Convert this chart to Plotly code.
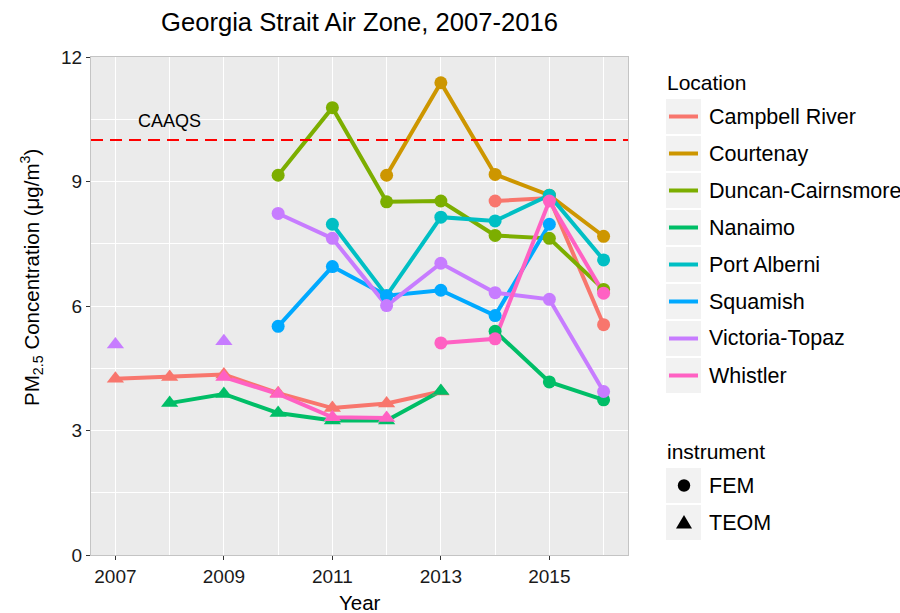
import plotly.graph_objects as go

# ---------------- data ----------------
years = [2007, 2008, 2009, 2010, 2011, 2012, 2013, 2014, 2015, 2016]
locations = ["Campbell River", "Courtenay", "Duncan-Cairnsmore", "Nanaimo",
             "Port Alberni", "Squamish", "Victoria-Topaz", "Whistler"]
colors = ["#F8766D", "#CD9600", "#7CAE00", "#00BE67",
          "#00BFC4", "#00A9FF", "#C77CFF", "#FF61C3"]
instruments = ["FEM", "TEOM"]
N = None

campbell_river_fem = [N, N, N, N, N, N, N, 8.53, 8.60, 5.55]
campbell_river_teom = [4.25, 4.29, 4.35, 3.90, 3.54, 3.65, 3.94, N, N, N]
courtenay_fem = [N, N, N, N, N, 9.15, 11.38, 9.17, 8.67, 7.68]
courtenay_teom = [N, N, N, N, N, N, N, N, N, N]
duncan_fem = [N, N, N, 9.15, 10.78, 8.51, 8.53, 7.70, 7.63, 6.40]
duncan_teom = [N, N, N, N, N, N, N, N, N, N]
nanaimo_fem = [N, N, N, N, N, N, N, 5.39, 4.17, 3.74]
nanaimo_teom = [N, 3.66, 3.88, 3.42, 3.24, 3.24, 3.95, N, N, N]
port_alberni_fem = [N, N, N, N, 7.97, 6.25, 8.14, 8.05, 8.67, 7.11]
port_alberni_teom = [N, N, N, N, N, N, N, N, N, N]
squamish_fem = [N, N, N, 5.51, 6.95, 6.25, 6.38, 5.77, 7.97, N]
squamish_teom = [N, N, N, N, N, N, N, N, N, N]
victoria_fem = [N, N, N, 8.23, 7.63, 6.01, 7.03, 6.32, 6.16, 3.94]
victoria_teom = [5.07, N, 5.15, N, N, N, N, N, N, N]
whistler_fem = [N, N, N, N, N, N, 5.11, 5.21, 8.53, 6.31]
whistler_teom = [N, N, 4.29, 3.88, 3.32, 3.30, N, N, N, N]

caaqs = 10
x_ticks = [2007, 2009, 2011, 2013, 2015]
y_ticks = [0, 3, 6, 9, 12]

series = {
    "Campbell River": {"FEM": campbell_river_fem, "TEOM": campbell_river_teom},
    "Courtenay": {"FEM": courtenay_fem, "TEOM": courtenay_teom},
    "Duncan-Cairnsmore": {"FEM": duncan_fem, "TEOM": duncan_teom},
    "Nanaimo": {"FEM": nanaimo_fem, "TEOM": nanaimo_teom},
    "Port Alberni": {"FEM": port_alberni_fem, "TEOM": port_alberni_teom},
    "Squamish": {"FEM": squamish_fem, "TEOM": squamish_teom},
    "Victoria-Topaz": {"FEM": victoria_fem, "TEOM": victoria_teom},
    "Whistler": {"FEM": whistler_fem, "TEOM": whistler_teom},
}

# ---------------- figure ----------------
W, H = 900, 613
L, R, T, B = 91, 272, 57, 58
pw, ph = W - L - R, H - T - B
FONT = "Liberation Sans, Arial, sans-serif"


def px_x(px):
    return (px - L) / pw


def px_y(py):
    return (H - B - py) / ph


fig = go.Figure()

# lines first
for loc, col in zip(locations, colors):
    for inst in instruments:
        vals = series[loc][inst]
        if all(v is None for v in vals):
            continue
        fig.add_trace(go.Scatter(
            x=years, y=vals, mode="lines", connectgaps=False,
            line=dict(color=col, width=4), showlegend=False, hoverinfo="skip"))

# points on top
for loc, col in zip(locations, colors):
    for inst in instruments:
        vals = series[loc][inst]
        if all(v is None for v in vals):
            continue
        fig.add_trace(go.Scatter(
            x=years, y=vals, mode="markers", name=f"{loc} ({inst})",
            marker=dict(color=col,
                        size=13 if inst == "FEM" else 15,
                        symbol="circle" if inst == "FEM" else "triangle-up",
                        line=dict(width=0)),
            showlegend=False))

shapes = []
annotations = []

# CAAQS reference line
shapes.append(dict(type="line", xref="paper", x0=0, x1=1, yref="y",
                   y0=caaqs, y1=caaqs,
                   line=dict(color="#FF0000", width=2, dash="12px,7px"),
                   layer="above"))
annotations.append(dict(x=2008, y=caaqs + 0.45, xref="x", yref="y",
                        text="CAAQS", showarrow=False,
                        font=dict(size=18, color="black", family=FONT)))

# ---------- custom ggplot-style legends ----------
KEY_X0, KEY_X1 = 666, 701
TEXT_X = 707
PITCH = 37
LEG_FONT = 21.5
LEG_TITLE_FONT = 21
annotations.append(dict(x=px_x(665), y=px_y(82.5), xref="paper", yref="paper",
                        text="Location", showarrow=False, xanchor="left",
                        yanchor="middle",
                        font=dict(size=LEG_TITLE_FONT, color="black", family=FONT)))
for i, (loc, col) in enumerate(zip(locations, colors)):
    cy = 116.5 + PITCH * i
    shapes.append(dict(type="rect", xref="paper", yref="paper",
                       x0=px_x(KEY_X0), x1=px_x(KEY_X1),
                       y0=px_y(cy + 17.5), y1=px_y(cy - 17.5),
                       fillcolor="#F2F2F2", line=dict(width=0), layer="below"))
    shapes.append(dict(type="line", xref="paper", yref="paper",
                       x0=px_x(669), x1=px_x(698), y0=px_y(cy), y1=px_y(cy),
                       line=dict(color=col, width=4)))
    annotations.append(dict(x=px_x(TEXT_X), y=px_y(cy), xref="paper",
                            yref="paper", text=loc, showarrow=False,
                            xanchor="left", yanchor="middle",
                            font=dict(size=LEG_FONT, color="black", family=FONT)))

annotations.append(dict(x=px_x(665), y=px_y(451.5), xref="paper", yref="paper",
                        text="instrument", showarrow=False, xanchor="left",
                        yanchor="middle",
                        font=dict(size=LEG_TITLE_FONT, color="black", family=FONT)))
for i, inst in enumerate(instruments):
    cy = 485.5 + PITCH * i
    shapes.append(dict(type="rect", xref="paper", yref="paper",
                       x0=px_x(KEY_X0), x1=px_x(KEY_X1),
                       y0=px_y(cy + 17.5), y1=px_y(cy - 17.5),
                       fillcolor="#F2F2F2", line=dict(width=0), layer="below"))
    if inst == "FEM":
        shapes.append(dict(type="circle", xref="paper", yref="paper",
                           x0=px_x(684 - 6.2), x1=px_x(684 + 6.2),
                           y0=px_y(cy + 6.2), y1=px_y(cy - 6.2),
                           fillcolor="black", line=dict(width=0)))
    else:
        path = (f"M {px_x(684 - 8)} {px_y(cy + 6)} "
                f"L {px_x(684 + 8)} {px_y(cy + 6)} "
                f"L {px_x(684)} {px_y(cy - 7.5)} Z")
        shapes.append(dict(type="path", xref="paper", yref="paper",
                           path=path, fillcolor="black", line=dict(width=0)))
    annotations.append(dict(x=px_x(TEXT_X), y=px_y(cy), xref="paper",
                            yref="paper", text=inst, showarrow=False,
                            xanchor="left", yanchor="middle",
                            font=dict(size=LEG_FONT, color="black", family=FONT)))

# axis titles
annotations.append(dict(x=0.5, y=px_y(602), xref="paper", yref="paper",
                        text="Year", showarrow=False, yanchor="middle",
                        font=dict(size=20.5, color="black", family=FONT)))
annotations.append(dict(x=px_x(31), y=px_y(278), xref="paper", yref="paper",
                        text="PM<sub>2.5</sub> Concentration (μg/m<sup>3</sup>)",
                        textangle=-90, showarrow=False,
                        xanchor="center", yanchor="middle",
                        font=dict(size=20.5, color="black", family=FONT)))

axis_common = dict(
    showgrid=True, gridcolor="white", gridwidth=1.2,
    zeroline=False, showline=True, mirror=True, linecolor="#C4C4C4",
    linewidth=1, ticks="outside", ticklen=4, tickwidth=1, tickcolor="#333333",
    tickfont=dict(size=19, color="#1A1A1A", family=FONT),
)

fig.update_layout(
    width=W, height=H,
    margin=dict(l=L, r=R, t=T, b=B, pad=0),
    paper_bgcolor="white", plot_bgcolor="#EBEBEB",
    title=dict(text="Georgia Strait Air Zone, 2007-2016",
               x=0.5, xref="paper", xanchor="center",
               y=1 - 22 / H, yref="container", yanchor="middle",
               font=dict(size=25.6, color="black", family=FONT)),
    xaxis=dict(range=[2006.55, 2016.45], tickmode="array", tickvals=x_ticks,
               ticktext=[str(v) for v in x_ticks],
               minor=dict(tickmode="array", tickvals=[2008, 2010, 2012, 2014, 2016],
                          showgrid=True, gridcolor="white", gridwidth=0.6,
                          ticks=""),
               **axis_common),
    yaxis=dict(range=[0, 12], tickmode="array", tickvals=y_ticks,
               minor=dict(tickmode="array", tickvals=[1.5, 4.5, 7.5, 10.5],
                          showgrid=True, gridcolor="white", gridwidth=0.6,
                          ticks=""),
               **axis_common),
    shapes=shapes,
    annotations=annotations,
    showlegend=False,
)

fig.write_html(
    "out.html",
    config={"displayModeBar": False},
    post_script="document.body.style.margin='0px';document.body.style.padding='0px';",
)
